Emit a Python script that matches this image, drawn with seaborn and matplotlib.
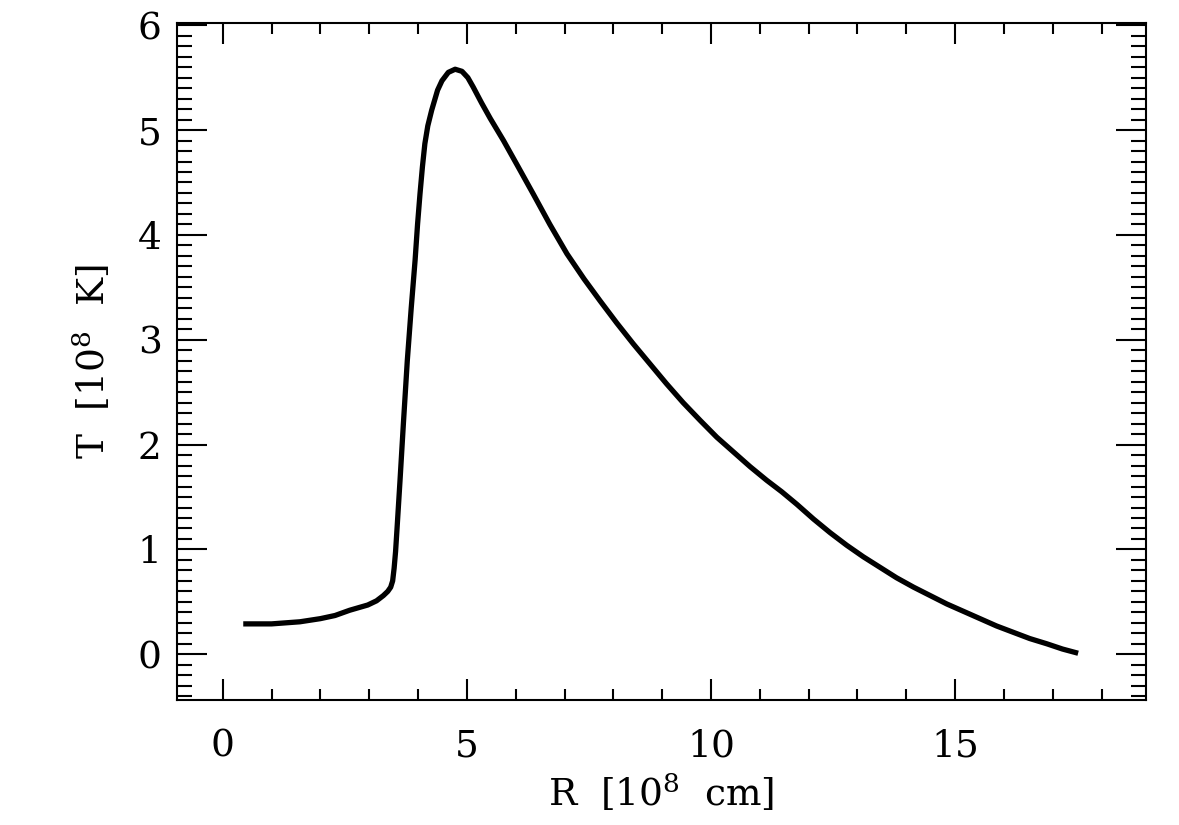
import numpy as np
import matplotlib
matplotlib.use('Agg')
import matplotlib.pyplot as plt
import pandas as pd
import seaborn as sns
from matplotlib.ticker import MultipleLocator

# Temperature profile
radius = [0.42, 1.0, 1.58, 2.0, 2.3, 2.6, 2.97, 3.15, 3.29, 3.38, 3.44, 3.48,
          3.51, 3.54, 3.57, 3.63, 3.70, 3.78, 3.86, 3.94, 3.99, 4.04, 4.09,
          4.14, 4.20, 4.28, 4.40, 4.49, 4.62, 4.76, 4.90, 5.02, 5.13, 5.30,
          5.48, 5.75, 6.05, 6.36, 6.70, 7.05, 7.40, 7.73, 8.07, 8.41, 8.75,
          9.09, 9.43, 9.78, 10.12, 10.46, 10.80, 11.14, 11.45, 11.76, 12.10,
          12.44, 12.78, 13.12, 13.46, 13.80, 14.15, 14.49, 14.83, 15.17,
          15.51, 15.85, 16.19, 16.53, 16.88, 17.20, 17.52]
temp = [0.29, 0.29, 0.31, 0.34, 0.37, 0.42, 0.47, 0.51, 0.56, 0.60, 0.64, 0.70,
        0.82, 0.98, 1.20, 1.65, 2.20, 2.80, 3.30, 3.76, 4.10, 4.39, 4.65,
        4.87, 5.04, 5.19, 5.38, 5.47, 5.55, 5.58, 5.56, 5.50, 5.41, 5.26,
        5.11, 4.90, 4.65, 4.39, 4.10, 3.82, 3.58, 3.37, 3.16, 2.96, 2.77,
        2.58, 2.40, 2.23, 2.07, 1.93, 1.79, 1.66, 1.55, 1.43, 1.29,
        1.16, 1.04, 0.93, 0.83, 0.73, 0.64, 0.56, 0.48, 0.41,
        0.34, 0.27, 0.21, 0.15, 0.10, 0.05, 0.01]

df = pd.DataFrame({'R': radius, 'T': temp})

sns.set_style('ticks')
plt.rcParams['font.family'] = ['DejaVu Serif']
plt.rcParams['mathtext.fontset'] = 'dejavuserif'
plt.rcParams['text.color'] = 'black'
plt.rcParams['axes.labelcolor'] = 'black'

fig = plt.figure(figsize=(11.79, 8.25), dpi=100)
ax = fig.add_axes([0.150, 0.151, 0.822, 0.821])

sns.lineplot(data=df, x='R', y='T', ax=ax, color='black', linewidth=3.8,
             solid_joinstyle='round', solid_capstyle='butt')

ax.set_xlim(-0.94, 18.91)
ax.set_ylim(-0.44, 6.02)

ax.xaxis.set_major_locator(MultipleLocator(5))
ax.xaxis.set_minor_locator(MultipleLocator(1))
ax.yaxis.set_major_locator(MultipleLocator(1))
ax.yaxis.set_minor_locator(MultipleLocator(0.1))

for s in ax.spines.values():
    s.set_linewidth(1.5)
    s.set_color('black')

ax.tick_params(axis='both', which='both', direction='in', top=True, right=True,
               width=1.5, colors='black', labelsize=27)
ax.tick_params(axis='x', which='major', length=15.1, pad=20)
ax.tick_params(axis='x', which='minor', length=7.6)
ax.tick_params(axis='y', which='major', length=21.6, pad=11)
ax.tick_params(axis='y', which='minor', length=10.8)

ax.set_xlabel(r'R  [10$^8$  cm]', fontsize=27, labelpad=6, color='black')
ax.set_ylabel(r'T  [10$^8$  K]', fontsize=27, labelpad=18, color='black')

fig.savefig('out.png', dpi=100, facecolor='white')
